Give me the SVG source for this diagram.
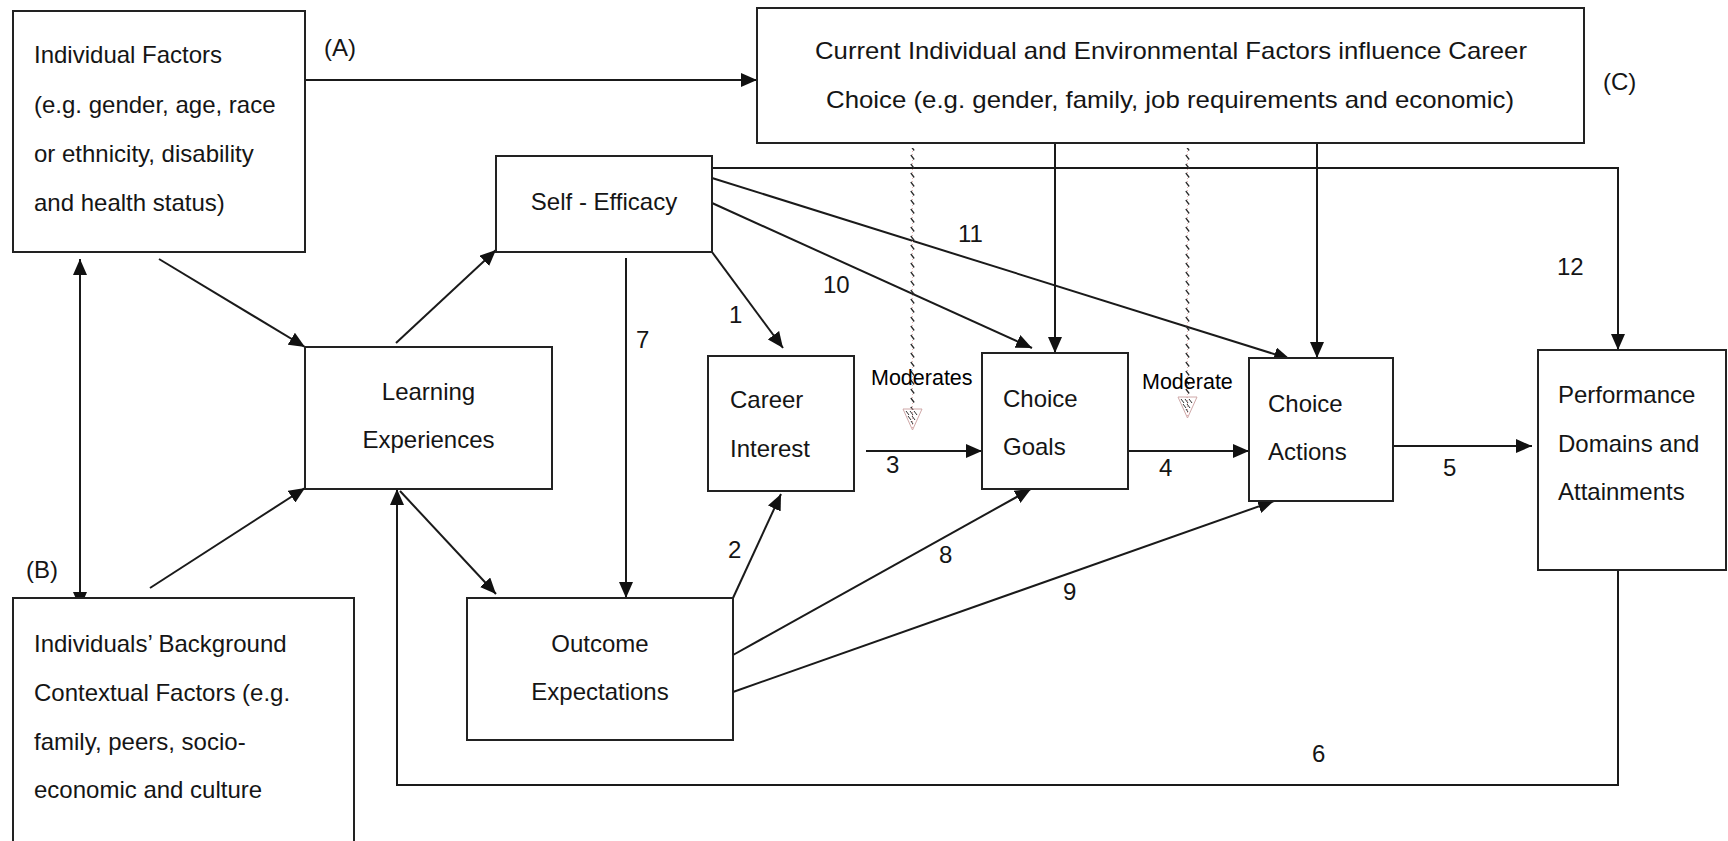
<svg xmlns="http://www.w3.org/2000/svg" width="1728" height="841" viewBox="0 0 1728 841">
  <style>
    .box { fill: #ffffff; stroke: #222222; stroke-width: 2; }
    .t { font-family: "Liberation Sans", Arial, sans-serif; font-size: 24px; fill: #151515; }
    .c { text-anchor: middle; }
    .lbl { font-family: "Liberation Sans", Arial, sans-serif; font-size: 24px; fill: #151515; }
    .mod { font-family: "Liberation Sans", Arial, sans-serif; font-size: 21.5px; fill: #000000; }
    .edge { fill: none; stroke: #1a1a1a; stroke-width: 2; }
    .arr { marker-end: url(#head); }
    .both { marker-start: url(#head); marker-end: url(#head); }
  </style>
  <defs>
    <marker id="head" markerUnits="userSpaceOnUse" markerWidth="17" markerHeight="14" refX="16" refY="7" orient="auto-start-reverse">
      <path d="M0,0 L16,7 L0,14 z" fill="#111111"/>
    </marker>
    <!-- small backslash ticks that make the hatched moderator shafts -->
    <pattern id="ticks" patternUnits="userSpaceOnUse" width="5" height="9">
      <line x1="0.8" y1="2" x2="4.2" y2="6.5" stroke="#2a2a2a" stroke-width="1.3"/>
    </pattern>
  </defs>

  <rect width="1728" height="841" fill="#ffffff"/>

  <!-- connectors -->
  <g id="connectors">
    <!-- (A) individual factors to current factors -->
    <path class="edge arr" d="M305,80 H757"/>
    <!-- individual factors <-> background -->
    <path class="edge both" d="M80,259 V608"/>
    <!-- into learning experiences -->
    <path class="edge arr" d="M159,259 L305,347"/>
    <path class="edge arr" d="M150,588 L305,488"/>
    <!-- learning to self-efficacy and outcome expectations -->
    <path class="edge arr" d="M396,343 L496,250"/>
    <path class="edge arr" d="M400,491 L496,594"/>
    <!-- path 7 -->
    <path class="edge arr" d="M626,258 V598"/>
    <!-- path 1 -->
    <path class="edge arr" d="M712,252 L783,348"/>
    <!-- path 10 -->
    <path class="edge arr" d="M712,203 L1032,348"/>
    <!-- path 11 -->
    <path class="edge arr" d="M712,178 L1290,359"/>
    <!-- path 12 -->
    <path class="edge arr" d="M712,168 H1618 V350"/>
    <!-- current factors to goals and actions -->
    <path class="edge arr" d="M1055,143 V353"/>
    <path class="edge arr" d="M1317,143 V358"/>
    <!-- path 2 -->
    <path class="edge arr" d="M733,598 L781,494"/>
    <!-- path 3 -->
    <path class="edge arr" d="M866,451 H982"/>
    <!-- path 4 -->
    <path class="edge arr" d="M1128,451 H1249"/>
    <!-- path 5 -->
    <path class="edge arr" d="M1393,446 H1532"/>
    <!-- path 8 -->
    <path class="edge arr" d="M733,655 L1031,489"/>
    <!-- path 9 -->
    <path class="edge arr" d="M733,692 L1274,501"/>
    <!-- path 6: feedback loop -->
    <path class="edge arr" d="M1618,570 V785 H397 V489"/>

    <!-- moderator arrows (hatched) -->
    <g id="moderator-1">
      <line x1="912.5" y1="148" x2="912.5" y2="428" stroke="#e6b3b3" stroke-width="1" stroke-dasharray="1 2"/>
      <rect x="910" y="148" width="5" height="262" fill="url(#ticks)"/>
      <path d="M903,409 L922,409 L912.5,430 z" fill="none" stroke="#cfa8a8" stroke-width="1"/>
      <path d="M906,411 L909,415 M910,411 L913,415 M914,411 L917,415 M908,416 L911,420 M912,416 L915,420 M911,421 L913,424" stroke="#333333" stroke-width="1"/>
    </g>
    <g id="moderator-2">
      <line x1="1187.5" y1="148" x2="1187.5" y2="418" stroke="#e6b3b3" stroke-width="1" stroke-dasharray="1 2"/>
      <rect x="1185" y="148" width="5" height="250" fill="url(#ticks)"/>
      <path d="M1178,397 L1197,397 L1187.5,418 z" fill="none" stroke="#cfa8a8" stroke-width="1"/>
      <path d="M1181,399 L1184,403 M1185,399 L1188,403 M1189,399 L1192,403 M1183,404 L1186,408 M1187,404 L1190,408 M1186,409 L1188,412" stroke="#333333" stroke-width="1"/>
    </g>

    <!-- connector labels -->
    <text class="lbl" x="324" y="56">(A)</text>
    <text class="lbl" x="26" y="578">(B)</text>
    <text class="lbl" x="1603" y="90">(C)</text>
    <text class="lbl" x="729" y="323">1</text>
    <text class="lbl" x="728" y="558">2</text>
    <text class="lbl" x="886" y="473">3</text>
    <text class="lbl" x="1159" y="476">4</text>
    <text class="lbl" x="1443" y="476">5</text>
    <text class="lbl" x="1312" y="762">6</text>
    <text class="lbl" x="636" y="348">7</text>
    <text class="lbl" x="939" y="563">8</text>
    <text class="lbl" x="1063" y="600">9</text>
    <text class="lbl" x="823" y="293">10</text>
    <text class="lbl" x="958" y="242">11</text>
    <text class="lbl" x="1557" y="275">12</text>
    <text class="mod" x="871" y="385">Moderates</text>
    <text class="mod" x="1142" y="389">Moderate</text>
  </g>

  <!-- nodes -->
  <g id="individual-factors">
    <rect class="box" x="13" y="11" width="292" height="241"/>
    <text class="t" x="34" y="63">Individual Factors</text>
    <text class="t" x="34" y="113">(e.g. gender, age, race</text>
    <text class="t" x="34" y="162">or ethnicity, disability</text>
    <text class="t" x="34" y="211">and health status)</text>
  </g>

  <g id="background-factors">
    <rect class="box" x="13" y="598" width="341" height="260"/>
    <text class="t" x="34" y="652">Individuals’ Background</text>
    <text class="t" x="34" y="701">Contextual Factors (e.g.</text>
    <text class="t" x="34" y="750">family, peers, socio-</text>
    <text class="t" x="34" y="798">economic and culture</text>
  </g>

  <g id="current-factors">
    <rect class="box" x="757" y="8" width="827" height="135"/>
    <text class="t c" x="1171" y="59" textLength="712" lengthAdjust="spacingAndGlyphs">Current Individual and Environmental Factors influence Career</text>
    <text class="t c" x="1170" y="108" textLength="688" lengthAdjust="spacingAndGlyphs">Choice (e.g. gender, family, job requirements and economic)</text>
  </g>

  <g id="learning-experiences">
    <rect class="box" x="305" y="347" width="247" height="142"/>
    <text class="t c" x="428.5" y="400">Learning</text>
    <text class="t c" x="428.5" y="448">Experiences</text>
  </g>

  <g id="self-efficacy">
    <rect class="box" x="496" y="156" width="216" height="96"/>
    <text class="t c" x="604" y="210">Self - Efficacy</text>
  </g>

  <g id="outcome-expectations">
    <rect class="box" x="467" y="598" width="266" height="142"/>
    <text class="t c" x="600" y="652">Outcome</text>
    <text class="t c" x="600" y="700">Expectations</text>
  </g>

  <g id="career-interest">
    <rect class="box" x="708" y="356" width="146" height="135"/>
    <text class="t" x="730" y="408">Career</text>
    <text class="t" x="730" y="457">Interest</text>
  </g>

  <g id="choice-goals">
    <rect class="box" x="982" y="353" width="146" height="136"/>
    <text class="t" x="1003" y="407">Choice</text>
    <text class="t" x="1003" y="455">Goals</text>
  </g>

  <g id="choice-actions">
    <rect class="box" x="1249" y="358" width="144" height="143"/>
    <text class="t" x="1268" y="412">Choice</text>
    <text class="t" x="1268" y="460">Actions</text>
  </g>

  <g id="performance">
    <rect class="box" x="1538" y="350" width="188" height="220"/>
    <text class="t" x="1558" y="403">Performance</text>
    <text class="t" x="1558" y="452">Domains and</text>
    <text class="t" x="1558" y="500">Attainments</text>
  </g>
</svg>
